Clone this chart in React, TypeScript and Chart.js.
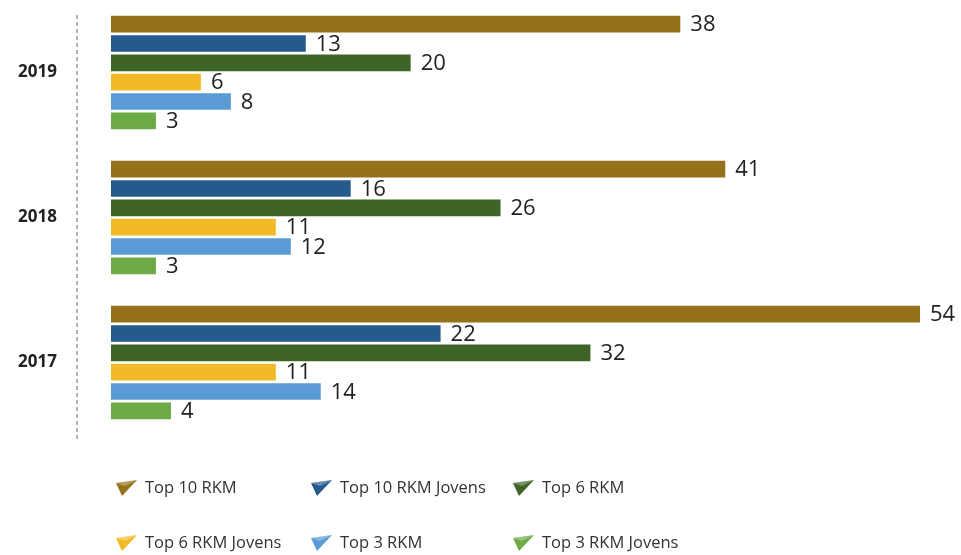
import React, { useEffect, useRef } from "react";
import { Chart, registerables } from "chart.js";

Chart.register(...registerables);

const categories = ["2019", "2018", "2017"];
const seriesNames = [
  "Top 10 RKM",
  "Top 10 RKM Jovens",
  "Top 6 RKM",
  "Top 6 RKM Jovens",
  "Top 3 RKM",
  "Top 3 RKM Jovens",
];
const top10 = [38, 41, 54];
const top10Jovens = [13, 16, 22];
const top6 = [20, 26, 32];
const top6Jovens = [6, 11, 11];
const top3 = [8, 12, 14];
const top3Jovens = [3, 3, 4];
const seriesValues = [top10, top10Jovens, top6, top6Jovens, top3, top3Jovens];
const colors = ["#94711A", "#245A8C", "#3E6428", "#F2BA26", "#5B9BD5", "#6BAA45"];

const FONT = "'Open Sans', 'Noto Sans', sans-serif";

const labelPlugin = {
  id: "valueLabels",
  afterDatasetsDraw(chart: any) {
    const ctx = chart.ctx;
    ctx.save();
    ctx.font = `22px ${FONT}`;
    ctx.fillStyle = "#222";
    ctx.textAlign = "left";
    ctx.textBaseline = "middle";
    chart.data.datasets.forEach((ds: any, i: number) => {
      const meta = chart.getDatasetMeta(i);
      meta.data.forEach((el: any, j: number) => {
        ctx.fillText(String(ds.data[j]), el.x + 10, el.y + 1);
      });
    });
    ctx.restore();
  },
};

const decorPlugin = {
  id: "decor",
  afterDraw(chart: any) {
    const ctx = chart.ctx;
    ctx.save();
    // category labels
    const yScale = chart.scales.y;
    ctx.font = `bold 17px ${FONT}`;
    ctx.fillStyle = "#222";
    ctx.textAlign = "right";
    ctx.textBaseline = "middle";
    categories.forEach((c, i) => {
      ctx.fillText(c, 57, yScale.getPixelForTick(i));
    });
    // dashed vertical line
    ctx.strokeStyle = "#9a9a9a";
    ctx.lineWidth = 1.5;
    ctx.setLineDash([4, 3]);
    ctx.beginPath();
    ctx.moveTo(77, 15);
    ctx.lineTo(77, 442);
    ctx.stroke();
    ctx.setLineDash([]);
    // legend
    const colX = [117, 312, 514];
    const rowY = [488, 543];
    ctx.font = `16.5px ${FONT}`;
    ctx.textBaseline = "middle";
    ctx.textAlign = "left";
    seriesNames.forEach((name, i) => {
      const x = colX[i % 3];
      const y = rowY[Math.floor(i / 3)];
      ctx.fillStyle = colors[i];
      ctx.beginPath();
      ctx.moveTo(x - 1, y - 5);
      ctx.lineTo(x + 20, y - 8);
      ctx.lineTo(x + 5, y + 8);
      ctx.closePath();
      ctx.fill();
      ctx.fillStyle = "rgba(255,255,255,0.3)";
      ctx.beginPath();
      ctx.moveTo(x - 1, y - 5);
      ctx.lineTo(x + 20, y - 8);
      ctx.lineTo(x + 8, y - 2);
      ctx.closePath();
      ctx.fill();
      ctx.fillStyle = "#333";
      ctx.fillText(name, x + 28, y);
    });
    ctx.restore();
  },
};

export default function App() {
  const ref = useRef<HTMLCanvasElement | null>(null);
  useEffect(() => {
    document.body.style.margin = "0";
    if (!ref.current) return;
    const chart = new Chart(ref.current, {
      type: "bar",
      data: {
        labels: categories,
        datasets: seriesNames.map((name, i) => ({
          label: name,
          data: seriesValues[i],
          backgroundColor: colors[i],
          borderWidth: 0,
          categoryPercentage: 0.8,
          barPercentage: 0.86,
        })),
      },
      options: {
        indexAxis: "y",
        animation: false,
        responsive: false,
        devicePixelRatio: 1,
        layout: { padding: { top: 0, bottom: 120, left: 0, right: 11 } },
        plugins: {
          legend: { display: false },
          tooltip: { enabled: false },
        },
        scales: {
          x: {
            display: false,
            min: 0,
            max: 56,
          },
          y: {
            afterFit: (scale: any) => {
              scale.width = 111;
            },
            grid: { display: false, drawTicks: false },
            border: { display: false },
            ticks: { display: false, padding: 0 },
          },
        },
      },
      plugins: [labelPlugin, decorPlugin],
    });
    return () => chart.destroy();
  }, []);
  return <canvas ref={ref} width={961} height={555} style={{ display: "block" }} />;
}
